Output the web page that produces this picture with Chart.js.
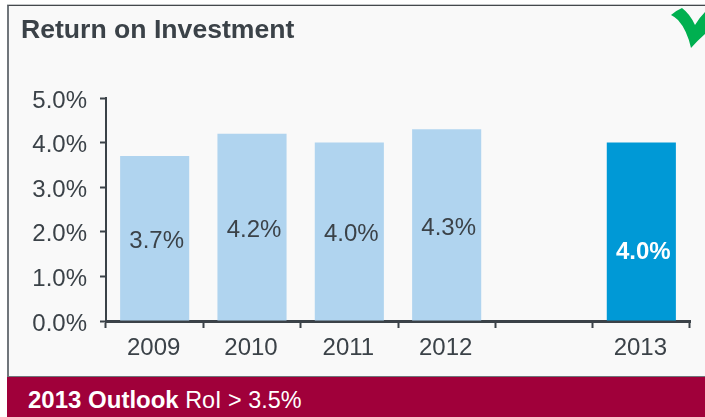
<!DOCTYPE html>
<html>
<head>
<meta charset="utf-8">
<title>Return on Investment</title>
<script src="https://cdn.jsdelivr.net/npm/chart.js@4"></script>
<style>
  html, body { margin: 0; padding: 0; background: #fff; }
  #stage { position: relative; width: 705px; height: 417px; overflow: hidden; font-family: "Liberation Sans", Arial, sans-serif; }
  #panel { position: absolute; left: 7px; top: 5px; width: 698px; height: 372px; box-sizing: border-box; background: #f9f9f9;
           border-top: 1px solid #45494d; border-left: 2px solid #70767b; box-shadow: 0 -1px 0 #c4c6c8; }
  #heading { position: absolute; left: 21px; top: 14px; font-size: 26.6px; font-weight: bold; color: #3b4248; line-height: 30px; white-space: nowrap; }
  #outlook { position: absolute; left: 7px; top: 376px; width: 698px; height: 41px; box-sizing: border-box; background: #a0003a;
             border-top: 1px solid #70767b; color: #fff; font-size: 23.4px; line-height: 46px; padding-left: 21px; white-space: nowrap; }
  #outlook b { font-size: 24px; }
  #tick { position: absolute; left: 0; top: 0; }
  canvas { position: absolute; left: 0; top: 0; }
</style>
</head>
<body>
<div id="stage">
  <div id="panel"></div>
  <canvas id="roi" width="705" height="417"></canvas>
  <div id="heading">Return on Investment</div>
  <svg id="tick" width="705" height="60" viewBox="0 0 705 60">
    <path d="M671 15 Q677 10 682 8 Q690 14 695 25 Q699 18 705 12 L705 34 Q697 41 691 48 Q687 30 678 20 Q675 17 671 15 Z" fill="#00b050"/>
  </svg>
  <div id="outlook"><b>2013 Outlook</b> RoI &gt; 3.5%</div>
</div>
<script>
const categories = ['2009', '2010', '2011', '2012', '', '2013'];
const roiValues = [3.7, 4.2, 4.0, 4.3, null, 4.0];
const yTicks = [0, 1, 2, 3, 4, 5];

const paleBlue = '#b0d4ef';
const strongBlue = '#0099d6';
const inkColor = '#3b4248';

// Writes each bar's percentage inside the bar; the outlook year is bold, white and sits lower.
const barValueLabels = {
  id: 'barValueLabels',
  afterDatasetsDraw(chart) {
    const { ctx } = chart;
    const bars = chart.getDatasetMeta(0).data;
    ctx.save();
    ctx.textAlign = 'center';
    ctx.textBaseline = 'middle';
    bars.forEach((bar, i) => {
      const value = roiValues[i];
      if (value === null) return;
      const isOutlook = categories[i] === '2013';
      const base = chart.scales.y.getPixelForValue(0);
      ctx.font = (isOutlook ? 'bold ' : '') + '24px "Liberation Sans", Arial, sans-serif';
      ctx.fillStyle = isOutlook ? '#ffffff' : inkColor;
      ctx.fillText(value.toFixed(1) + '%', bar.x + 2, (bar.y + base) / 2 + (isOutlook ? 21 : 3));
    });
    ctx.restore();
  }
};

new Chart(document.getElementById('roi'), {
  type: 'bar',
  data: {
    labels: categories,
    datasets: [{
      data: roiValues,
      backgroundColor: categories.map(c => c === '2013' ? strongBlue : paleBlue),
      borderWidth: 0,
      categoryPercentage: 1,
      barPercentage: 0.71
    }]
  },
  plugins: [barValueLabels],
  options: {
    responsive: false,
    animation: false,
    layout: { padding: { top: 98, right: 15, left: 0, bottom: 0 } },
    plugins: { legend: { display: false }, tooltip: { enabled: false }, title: { display: false } },
    scales: {
      x: {
        afterFit(scale) { scale.height = 96; },
        border: { color: inkColor, width: 3 },
        grid: { drawOnChartArea: false, drawTicks: true, tickLength: 7, tickColor: inkColor, tickWidth: 2 },
        ticks: { color: inkColor, font: { family: '"Liberation Sans", Arial, sans-serif', size: 24 }, padding: 6, labelOffset: -1, maxRotation: 0, autoSkip: false }
      },
      y: {
        min: 0,
        max: 5,
        afterFit(scale) { scale.width = 106; },
        afterBuildTicks(scale) { scale.ticks = yTicks.map(value => ({ value })); },
        border: { color: inkColor, width: 2 },
        grid: { drawOnChartArea: false, drawTicks: true, tickLength: 6, tickColor: inkColor, tickWidth: 2 },
        ticks: {
          color: inkColor,
          font: { family: '"Liberation Sans", Arial, sans-serif', size: 24 },
          padding: 13,
          labelOffset: 3,
          callback: value => value.toFixed(1) + '%'
        }
      }
    }
  }
});
</script>
</body>
</html>
